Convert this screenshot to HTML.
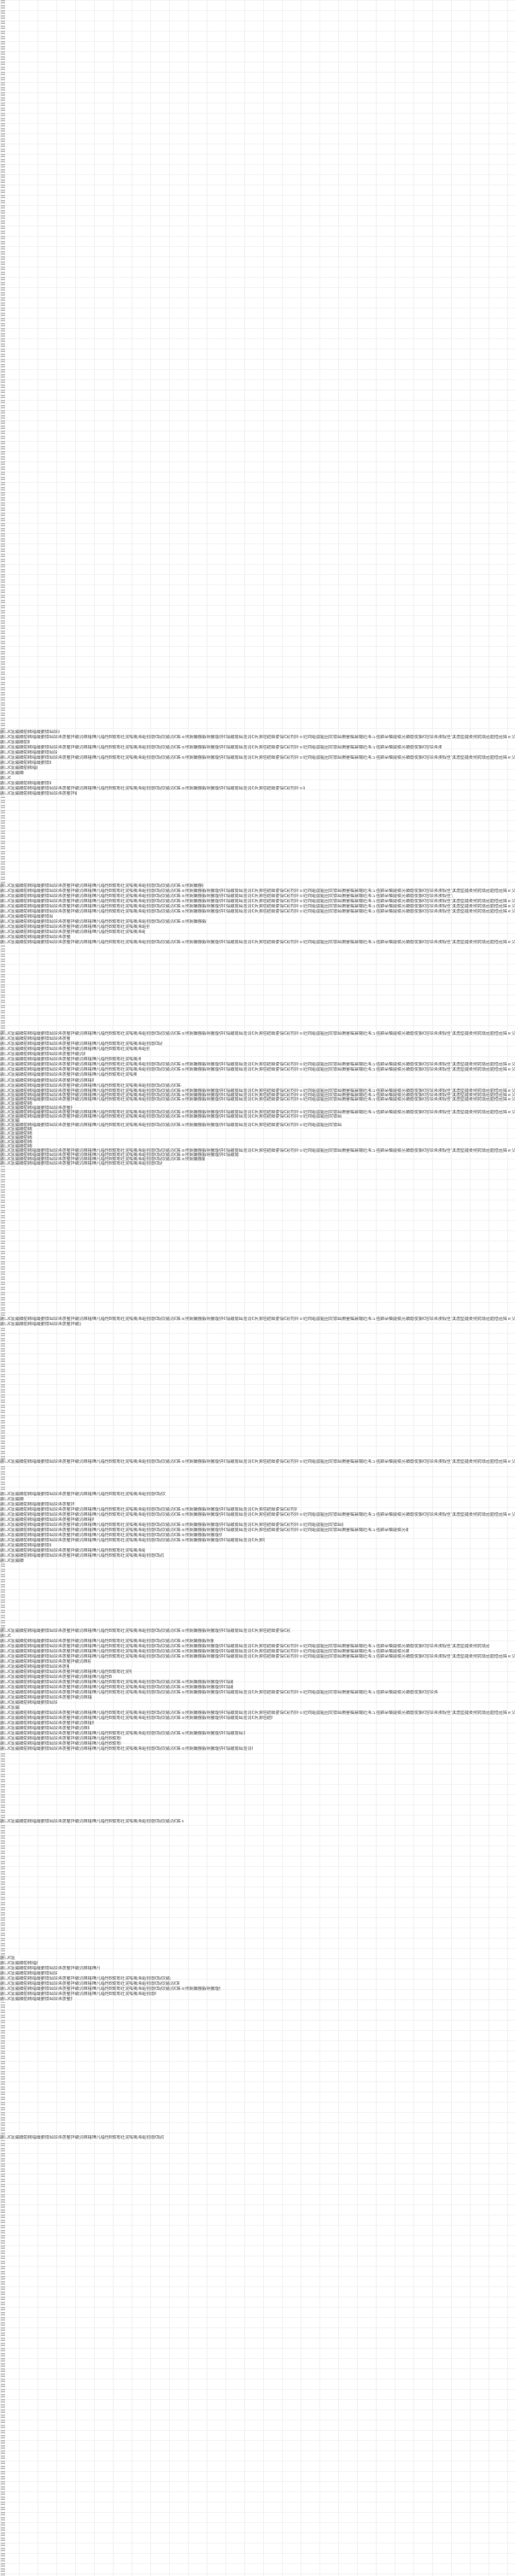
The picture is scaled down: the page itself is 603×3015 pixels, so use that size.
<!DOCTYPE html>
<html><head><meta charset="utf-8">
<style>
html,body{margin:0;padding:0;}
body{width:603px;height:3015px;position:relative;overflow:hidden;background:#fff;
background-image:linear-gradient(to right,#f2f2f2 1px,transparent 1px),linear-gradient(to bottom,#f4f4f4 1px,transparent 1px);
background-size:22px 100%,100% 12px;}
.ic{position:absolute;left:1px;top:0;width:5px;height:3015px;
background:repeating-linear-gradient(to bottom,#b8b8b8 0 1px,#e0e0e0 1px 3px,#b8b8b8 3px 4px,transparent 4px 6px);}
.l{position:absolute;left:0;height:6px;overflow:hidden;white-space:nowrap;background:#fff;
font-family:"Liberation Sans","Noto Sans CJK SC",sans-serif;font-size:5px;line-height:6px;color:#555;}
</style></head><body>
<div class="ic"></div>

<div class="l" style="top:854px;width:70px">鍦ㄩ€氳繃鐨勭郴缁熶腑锛屾垜浠彂鐜拌繖涓棶棰樺凡缁忚В鍐</div>
<div class="l" style="top:860px;width:603px">鍦ㄩ€氳繃鐨勭郴缁熶腑锛屾垜浠彂鐜拌繖涓棶棰樺凡缁忚В鍐筹紝浣嗘槸浠嶇劧闇€瑕佽繘涓€姝ョ殑娴嬭瘯鍜岄獙璇併€傝繖閲屾湁涓€浜涙暟鎹細鍙傝€冩枃妗ｏ紝閰嶇疆鏂囦欢锛屾棩蹇楄褰曪紝浠ュ強鍏朵粬鐩稿叧鐨勪俊鎭€傛垜浠渶瑕佺‘淇濇墍鏈夌殑鍔熻兘閮借兘姝ｅ父宸ヤ綔</div>
<div class="l" style="top:866px;width:35px">鍦ㄩ€氳繃鐨勭郴缁</div>
<div class="l" style="top:872px;width:517px">鍦ㄩ€氳繃鐨勭郴缁熶腑锛屾垜浠彂鐜拌繖涓棶棰樺凡缁忚В鍐筹紝浣嗘槸浠嶇劧闇€瑕佽繘涓€姝ョ殑娴嬭瘯鍜岄獙璇併€傝繖閲屾湁涓€浜涙暟鎹細鍙傝€冩枃妗ｏ紝閰嶇疆鏂囦欢锛屾棩蹇楄褰曪紝浠ュ強鍏朵粬鐩稿叧鐨勪俊鎭€傛垜浠渶瑕佺‘淇濇墍鏈夌殑鍔熻兘</div>
<div class="l" style="top:878px;width:67px">鍦ㄩ€氳繃鐨勭郴缁熶腑锛屾垜浠彂鐜</div>
<div class="l" style="top:884px;width:603px">鍦ㄩ€氳繃鐨勭郴缁熶腑锛屾垜浠彂鐜拌繖涓棶棰樺凡缁忚В鍐筹紝浣嗘槸浠嶇劧闇€瑕佽繘涓€姝ョ殑娴嬭瘯鍜岄獙璇併€傝繖閲屾湁涓€浜涙暟鎹細鍙傝€冩枃妗ｏ紝閰嶇疆鏂囦欢锛屾棩蹇楄褰曪紝浠ュ強鍏朵粬鐩稿叧鐨勪俊鎭€傛垜浠渶瑕佺‘淇濇墍鏈夌殑鍔熻兘閮借兘姝ｅ父宸ヤ綔</div>
<div class="l" style="top:890px;width:60px">鍦ㄩ€氳繃鐨勭郴缁熶腑锛屾垜浠</div>
<div class="l" style="top:896px;width:44px">鍦ㄩ€氳繃鐨勭郴缁熶腑</div>
<div class="l" style="top:902px;width:31px">鍦ㄩ€氳繃鐨</div>
<div class="l" style="top:908px;width:14px">鍦ㄩ€</div>
<div class="l" style="top:914px;width:60px">鍦ㄩ€氳繃鐨勭郴缁熶腑锛屾垜浠</div>
<div class="l" style="top:920px;width:357px">鍦ㄩ€氳繃鐨勭郴缁熶腑锛屾垜浠彂鐜拌繖涓棶棰樺凡缁忚В鍐筹紝浣嗘槸浠嶇劧闇€瑕佽繘涓€姝ョ殑娴嬭瘯鍜岄獙璇併€傝繖閲屾湁涓€浜涙暟鎹細鍙傝€冩枃妗ｏ紝閰嶇疆鏂囦欢</div>
<div class="l" style="top:926px;width:90px">鍦ㄩ€氳繃鐨勭郴缁熶腑锛屾垜浠彂鐜拌繖涓棶</div>

<div class="l" style="top:1034px;width:238px">鍦ㄩ€氳繃鐨勭郴缁熶腑锛屾垜浠彂鐜拌繖涓棶棰樺凡缁忚В鍐筹紝浣嗘槸浠嶇劧闇€瑕佽繘涓€姝ョ殑娴嬭瘯鍜岄獙璇併€傝繖閲屾湁涓€浜涙暟鎹</div>
<div class="l" style="top:1040px;width:603px">鍦ㄩ€氳繃鐨勭郴缁熶腑锛屾垜浠彂鐜拌繖涓棶棰樺凡缁忚В鍐筹紝浣嗘槸浠嶇劧闇€瑕佽繘涓€姝ョ殑娴嬭瘯鍜岄獙璇併€傝繖閲屾湁涓€浜涙暟鎹細鍙傝€冩枃妗ｏ紝閰嶇疆鏂囦欢锛屾棩蹇楄褰曪紝浠ュ強鍏朵粬鐩稿叧鐨勪俊鎭€傛垜浠渶瑕佺‘淇濇墍鏈夌殑鍔熻兘閮借兘姝ｅ父宸ヤ綔</div>
<div class="l" style="top:1046px;width:530px">鍦ㄩ€氳繃鐨勭郴缁熶腑锛屾垜浠彂鐜拌繖涓棶棰樺凡缁忚В鍐筹紝浣嗘槸浠嶇劧闇€瑕佽繘涓€姝ョ殑娴嬭瘯鍜岄獙璇併€傝繖閲屾湁涓€浜涙暟鎹細鍙傝€冩枃妗ｏ紝閰嶇疆鏂囦欢锛屾棩蹇楄褰曪紝浠ュ強鍏朵粬鐩稿叧鐨勪俊鎭€傛垜浠渶瑕佺‘淇濇墍鏈夌殑鍔熻兘閮</div>
<div class="l" style="top:1052px;width:603px">鍦ㄩ€氳繃鐨勭郴缁熶腑锛屾垜浠彂鐜拌繖涓棶棰樺凡缁忚В鍐筹紝浣嗘槸浠嶇劧闇€瑕佽繘涓€姝ョ殑娴嬭瘯鍜岄獙璇併€傝繖閲屾湁涓€浜涙暟鎹細鍙傝€冩枃妗ｏ紝閰嶇疆鏂囦欢锛屾棩蹇楄褰曪紝浠ュ強鍏朵粬鐩稿叧鐨勪俊鎭€傛垜浠渶瑕佺‘淇濇墍鏈夌殑鍔熻兘閮借兘姝ｅ父宸ヤ綔</div>
<div class="l" style="top:1058px;width:603px">鍦ㄩ€氳繃鐨勭郴缁熶腑锛屾垜浠彂鐜拌繖涓棶棰樺凡缁忚В鍐筹紝浣嗘槸浠嶇劧闇€瑕佽繘涓€姝ョ殑娴嬭瘯鍜岄獙璇併€傝繖閲屾湁涓€浜涙暟鎹細鍙傝€冩枃妗ｏ紝閰嶇疆鏂囦欢锛屾棩蹇楄褰曪紝浠ュ強鍏朵粬鐩稿叧鐨勪俊鎭€傛垜浠渶瑕佺‘淇濇墍鏈夌殑鍔熻兘閮借兘姝ｅ父宸ヤ綔</div>
<div class="l" style="top:1064px;width:603px">鍦ㄩ€氳繃鐨勭郴缁熶腑锛屾垜浠彂鐜拌繖涓棶棰樺凡缁忚В鍐筹紝浣嗘槸浠嶇劧闇€瑕佽繘涓€姝ョ殑娴嬭瘯鍜岄獙璇併€傝繖閲屾湁涓€浜涙暟鎹細鍙傝€冩枃妗ｏ紝閰嶇疆鏂囦欢锛屾棩蹇楄褰曪紝浠ュ強鍏朵粬鐩稿叧鐨勪俊鎭€傛垜浠渶瑕佺‘淇濇墍鏈夌殑鍔熻兘閮借兘姝ｅ父宸ヤ綔</div>
<div class="l" style="top:1070px;width:62px">鍦ㄩ€氳繃鐨勭郴缁熶腑锛屾垜浠</div>
<div class="l" style="top:1076px;width:242px">鍦ㄩ€氳繃鐨勭郴缁熶腑锛屾垜浠彂鐜拌繖涓棶棰樺凡缁忚В鍐筹紝浣嗘槸浠嶇劧闇€瑕佽繘涓€姝ョ殑娴嬭瘯鍜岄獙璇併€傝繖閲屾湁涓€浜涙暟鎹</div>
<div class="l" style="top:1082px;width:175px">鍦ㄩ€氳繃鐨勭郴缁熶腑锛屾垜浠彂鐜拌繖涓棶棰樺凡缁忚В鍐筹紝浣嗘槸浠嶇劧闇€瑕佽繘涓€</div>
<div class="l" style="top:1088px;width:170px">鍦ㄩ€氳繃鐨勭郴缁熶腑锛屾垜浠彂鐜拌繖涓棶棰樺凡缁忚В鍐筹紝浣嗘槸浠嶇劧闇€瑕佽繘</div>
<div class="l" style="top:1094px;width:83px">鍦ㄩ€氳繃鐨勭郴缁熶腑锛屾垜浠彂鐜拌繖涓</div>
<div class="l" style="top:1100px;width:603px">鍦ㄩ€氳繃鐨勭郴缁熶腑锛屾垜浠彂鐜拌繖涓棶棰樺凡缁忚В鍐筹紝浣嗘槸浠嶇劧闇€瑕佽繘涓€姝ョ殑娴嬭瘯鍜岄獙璇併€傝繖閲屾湁涓€浜涙暟鎹細鍙傝€冩枃妗ｏ紝閰嶇疆鏂囦欢锛屾棩蹇楄褰曪紝浠ュ強鍏朵粬鐩稿叧鐨勪俊鎭€傛垜浠渶瑕佺‘淇濇墍鏈夌殑鍔熻兘閮借兘姝ｅ父宸ヤ綔</div>

<div class="l" style="top:1207px;width:603px">鍦ㄩ€氳繃鐨勭郴缁熶腑锛屾垜浠彂鐜拌繖涓棶棰樺凡缁忚В鍐筹紝浣嗘槸浠嶇劧闇€瑕佽繘涓€姝ョ殑娴嬭瘯鍜岄獙璇併€傝繖閲屾湁涓€浜涙暟鎹細鍙傝€冩枃妗ｏ紝閰嶇疆鏂囦欢锛屾棩蹇楄褰曪紝浠ュ強鍏朵粬鐩稿叧鐨勪俊鎭€傛垜浠渶瑕佺‘淇濇墍鏈夌殑鍔熻兘閮借兘姝ｅ父宸ヤ綔</div>
<div class="l" style="top:1213px;width:82px">鍦ㄩ€氳繃鐨勭郴缁熶腑锛屾垜浠彂鐜拌繖涓</div>
<div class="l" style="top:1219px;width:190px">鍦ㄩ€氳繃鐨勭郴缁熶腑锛屾垜浠彂鐜拌繖涓棶棰樺凡缁忚В鍐筹紝浣嗘槸浠嶇劧闇€瑕佽繘涓€姝ョ</div>
<div class="l" style="top:1225px;width:175px">鍦ㄩ€氳繃鐨勭郴缁熶腑锛屾垜浠彂鐜拌繖涓棶棰樺凡缁忚В鍐筹紝浣嗘槸浠嶇劧闇€瑕佽繘涓€</div>
<div class="l" style="top:1231px;width:100px">鍦ㄩ€氳繃鐨勭郴缁熶腑锛屾垜浠彂鐜拌繖涓棶棰樺</div>
<div class="l" style="top:1237px;width:165px">鍦ㄩ€氳繃鐨勭郴缁熶腑锛屾垜浠彂鐜拌繖涓棶棰樺凡缁忚В鍐筹紝浣嗘槸浠嶇劧闇€瑕</div>
<div class="l" style="top:1243px;width:603px">鍦ㄩ€氳繃鐨勭郴缁熶腑锛屾垜浠彂鐜拌繖涓棶棰樺凡缁忚В鍐筹紝浣嗘槸浠嶇劧闇€瑕佽繘涓€姝ョ殑娴嬭瘯鍜岄獙璇併€傝繖閲屾湁涓€浜涙暟鎹細鍙傝€冩枃妗ｏ紝閰嶇疆鏂囦欢锛屾棩蹇楄褰曪紝浠ュ強鍏朵粬鐩稿叧鐨勪俊鎭€傛垜浠渶瑕佺‘淇濇墍鏈夌殑鍔熻兘閮借兘姝ｅ父宸ヤ綔</div>
<div class="l" style="top:1249px;width:603px">鍦ㄩ€氳繃鐨勭郴缁熶腑锛屾垜浠彂鐜拌繖涓棶棰樺凡缁忚В鍐筹紝浣嗘槸浠嶇劧闇€瑕佽繘涓€姝ョ殑娴嬭瘯鍜岄獙璇併€傝繖閲屾湁涓€浜涙暟鎹細鍙傝€冩枃妗ｏ紝閰嶇疆鏂囦欢锛屾棩蹇楄褰曪紝浠ュ強鍏朵粬鐩稿叧鐨勪俊鎭€傛垜浠渶瑕佺‘淇濇墍鏈夌殑鍔熻兘閮借兘姝ｅ父宸ヤ綔</div>
<div class="l" style="top:1255px;width:160px">鍦ㄩ€氳繃鐨勭郴缁熶腑锛屾垜浠彂鐜拌繖涓棶棰樺凡缁忚В鍐筹紝浣嗘槸浠嶇劧闇€</div>
<div class="l" style="top:1262px;width:110px">鍦ㄩ€氳繃鐨勭郴缁熶腑锛屾垜浠彂鐜拌繖涓棶棰樺凡缁</div>
<div class="l" style="top:1268px;width:213px">鍦ㄩ€氳繃鐨勭郴缁熶腑锛屾垜浠彂鐜拌繖涓棶棰樺凡缁忚В鍐筹紝浣嗘槸浠嶇劧闇€瑕佽繘涓€姝ョ殑娴嬭瘯鍜</div>
<div class="l" style="top:1274px;width:603px">鍦ㄩ€氳繃鐨勭郴缁熶腑锛屾垜浠彂鐜拌繖涓棶棰樺凡缁忚В鍐筹紝浣嗘槸浠嶇劧闇€瑕佽繘涓€姝ョ殑娴嬭瘯鍜岄獙璇併€傝繖閲屾湁涓€浜涙暟鎹細鍙傝€冩枃妗ｏ紝閰嶇疆鏂囦欢锛屾棩蹇楄褰曪紝浠ュ強鍏朵粬鐩稿叧鐨勪俊鎭€傛垜浠渶瑕佺‘淇濇墍鏈夌殑鍔熻兘閮借兘姝ｅ父宸ヤ綔</div>
<div class="l" style="top:1279px;width:603px">鍦ㄩ€氳繃鐨勭郴缁熶腑锛屾垜浠彂鐜拌繖涓棶棰樺凡缁忚В鍐筹紝浣嗘槸浠嶇劧闇€瑕佽繘涓€姝ョ殑娴嬭瘯鍜岄獙璇併€傝繖閲屾湁涓€浜涙暟鎹細鍙傝€冩枃妗ｏ紝閰嶇疆鏂囦欢锛屾棩蹇楄褰曪紝浠ュ強鍏朵粬鐩稿叧鐨勪俊鎭€傛垜浠渶瑕佺‘淇濇墍鏈夌殑鍔熻兘閮借兘姝ｅ父宸ヤ綔</div>
<div class="l" style="top:1284px;width:603px">鍦ㄩ€氳繃鐨勭郴缁熶腑锛屾垜浠彂鐜拌繖涓棶棰樺凡缁忚В鍐筹紝浣嗘槸浠嶇劧闇€瑕佽繘涓€姝ョ殑娴嬭瘯鍜岄獙璇併€傝繖閲屾湁涓€浜涙暟鎹細鍙傝€冩枃妗ｏ紝閰嶇疆鏂囦欢锛屾棩蹇楄褰曪紝浠ュ強鍏朵粬鐩稿叧鐨勪俊鎭€傛垜浠渶瑕佺‘淇濇墍鏈夌殑鍔熻兘閮借兘姝ｅ父宸ヤ綔</div>
<div class="l" style="top:1289px;width:38px">鍦ㄩ€氳繃鐨勭郴</div>
<div class="l" style="top:1294px;width:85px">鍦ㄩ€氳繃鐨勭郴缁熶腑锛屾垜浠彂鐜拌繖涓</div>
<div class="l" style="top:1299px;width:603px">鍦ㄩ€氳繃鐨勭郴缁熶腑锛屾垜浠彂鐜拌繖涓棶棰樺凡缁忚В鍐筹紝浣嗘槸浠嶇劧闇€瑕佽繘涓€姝ョ殑娴嬭瘯鍜岄獙璇併€傝繖閲屾湁涓€浜涙暟鎹細鍙傝€冩枃妗ｏ紝閰嶇疆鏂囦欢锛屾棩蹇楄褰曪紝浠ュ強鍏朵粬鐩稿叧鐨勪俊鎭€傛垜浠渶瑕佺‘淇濇墍鏈夌殑鍔熻兘閮借兘姝ｅ父宸ヤ綔</div>
<div class="l" style="top:1304px;width:400px">鍦ㄩ€氳繃鐨勭郴缁熶腑锛屾垜浠彂鐜拌繖涓棶棰樺凡缁忚В鍐筹紝浣嗘槸浠嶇劧闇€瑕佽繘涓€姝ョ殑娴嬭瘯鍜岄獙璇併€傝繖閲屾湁涓€浜涙暟鎹細鍙傝€冩枃妗ｏ紝閰嶇疆鏂囦欢锛屾棩蹇楄褰</div>
<div class="l" style="top:1309px;width:25px">鍦ㄩ€氳繃</div>
<div class="l" style="top:1314px;width:400px">鍦ㄩ€氳繃鐨勭郴缁熶腑锛屾垜浠彂鐜拌繖涓棶棰樺凡缁忚В鍐筹紝浣嗘槸浠嶇劧闇€瑕佽繘涓€姝ョ殑娴嬭瘯鍜岄獙璇併€傝繖閲屾湁涓€浜涙暟鎹細鍙傝€冩枃妗ｏ紝閰嶇疆鏂囦欢锛屾棩蹇楄褰</div>
<div class="l" style="top:1319px;width:40px">鍦ㄩ€氳繃鐨勭郴</div>
<div class="l" style="top:1324px;width:40px">鍦ㄩ€氳繃鐨勭郴</div>
<div class="l" style="top:1329px;width:40px">鍦ㄩ€氳繃鐨勭郴</div>
<div class="l" style="top:1334px;width:40px">鍦ㄩ€氳繃鐨勭郴</div>
<div class="l" style="top:1339px;width:40px">鍦ㄩ€氳繃鐨勭郴</div>
<div class="l" style="top:1344px;width:603px">鍦ㄩ€氳繃鐨勭郴缁熶腑锛屾垜浠彂鐜拌繖涓棶棰樺凡缁忚В鍐筹紝浣嗘槸浠嶇劧闇€瑕佽繘涓€姝ョ殑娴嬭瘯鍜岄獙璇併€傝繖閲屾湁涓€浜涙暟鎹細鍙傝€冩枃妗ｏ紝閰嶇疆鏂囦欢锛屾棩蹇楄褰曪紝浠ュ強鍏朵粬鐩稿叧鐨勪俊鎭€傛垜浠渶瑕佺‘淇濇墍鏈夌殑鍔熻兘閮借兘姝ｅ父宸ヤ綔</div>
<div class="l" style="top:1349px;width:280px">鍦ㄩ€氳繃鐨勭郴缁熶腑锛屾垜浠彂鐜拌繖涓棶棰樺凡缁忚В鍐筹紝浣嗘槸浠嶇劧闇€瑕佽繘涓€姝ョ殑娴嬭瘯鍜岄獙璇併€傝繖閲屾湁涓€浜涙暟鎹細鍙</div>
<div class="l" style="top:1354px;width:240px">鍦ㄩ€氳繃鐨勭郴缁熶腑锛屾垜浠彂鐜拌繖涓棶棰樺凡缁忚В鍐筹紝浣嗘槸浠嶇劧闇€瑕佽繘涓€姝ョ殑娴嬭瘯鍜岄獙璇併€傝</div>
<div class="l" style="top:1359px;width:190px">鍦ㄩ€氳繃鐨勭郴缁熶腑锛屾垜浠彂鐜拌繖涓棶棰樺凡缁忚В鍐筹紝浣嗘槸浠嶇劧闇€瑕佽繘涓€姝ョ</div>

<div class="l" style="top:1541px;width:603px">鍦ㄩ€氳繃鐨勭郴缁熶腑锛屾垜浠彂鐜拌繖涓棶棰樺凡缁忚В鍐筹紝浣嗘槸浠嶇劧闇€瑕佽繘涓€姝ョ殑娴嬭瘯鍜岄獙璇併€傝繖閲屾湁涓€浜涙暟鎹細鍙傝€冩枃妗ｏ紝閰嶇疆鏂囦欢锛屾棩蹇楄褰曪紝浠ュ強鍏朵粬鐩稿叧鐨勪俊鎭€傛垜浠渶瑕佺‘淇濇墍鏈夌殑鍔熻兘閮借兘姝ｅ父宸ヤ綔</div>
<div class="l" style="top:1547px;width:95px">鍦ㄩ€氳繃鐨勭郴缁熶腑锛屾垜浠彂鐜拌繖涓棶棰</div>
<div class="l" style="top:1708px;width:603px">鍦ㄩ€氳繃鐨勭郴缁熶腑锛屾垜浠彂鐜拌繖涓棶棰樺凡缁忚В鍐筹紝浣嗘槸浠嶇劧闇€瑕佽繘涓€姝ョ殑娴嬭瘯鍜岄獙璇併€傝繖閲屾湁涓€浜涙暟鎹細鍙傝€冩枃妗ｏ紝閰嶇疆鏂囦欢锛屾棩蹇楄褰曪紝浠ュ強鍏朵粬鐩稿叧鐨勪俊鎭€傛垜浠渶瑕佺‘淇濇墍鏈夌殑鍔熻兘閮借兘姝ｅ父宸ヤ綔</div>

<div class="l" style="top:1746px;width:194px">鍦ㄩ€氳繃鐨勭郴缁熶腑锛屾垜浠彂鐜拌繖涓棶棰樺凡缁忚В鍐筹紝浣嗘槸浠嶇劧闇€瑕佽繘涓€姝ョ</div>
<div class="l" style="top:1752px;width:31px">鍦ㄩ€氳繃鐨</div>
<div class="l" style="top:1758px;width:87px">鍦ㄩ€氳繃鐨勭郴缁熶腑锛屾垜浠彂鐜拌繖涓</div>
<div class="l" style="top:1764px;width:348px">鍦ㄩ€氳繃鐨勭郴缁熶腑锛屾垜浠彂鐜拌繖涓棶棰樺凡缁忚В鍐筹紝浣嗘槸浠嶇劧闇€瑕佽繘涓€姝ョ殑娴嬭瘯鍜岄獙璇併€傝繖閲屾湁涓€浜涙暟鎹細鍙傝€冩枃妗ｏ紝閰嶇疆</div>
<div class="l" style="top:1770px;width:603px">鍦ㄩ€氳繃鐨勭郴缁熶腑锛屾垜浠彂鐜拌繖涓棶棰樺凡缁忚В鍐筹紝浣嗘槸浠嶇劧闇€瑕佽繘涓€姝ョ殑娴嬭瘯鍜岄獙璇併€傝繖閲屾湁涓€浜涙暟鎹細鍙傝€冩枃妗ｏ紝閰嶇疆鏂囦欢锛屾棩蹇楄褰曪紝浠ュ強鍏朵粬鐩稿叧鐨勪俊鎭€傛垜浠渶瑕佺‘淇濇墍鏈夌殑鍔熻兘閮借兘姝ｅ父宸ヤ綔</div>
<div class="l" style="top:1776px;width:110px">鍦ㄩ€氳繃鐨勭郴缁熶腑锛屾垜浠彂鐜拌繖涓棶棰樺凡缁</div>
<div class="l" style="top:1782px;width:402px">鍦ㄩ€氳繃鐨勭郴缁熶腑锛屾垜浠彂鐜拌繖涓棶棰樺凡缁忚В鍐筹紝浣嗘槸浠嶇劧闇€瑕佽繘涓€姝ョ殑娴嬭瘯鍜岄獙璇併€傝繖閲屾湁涓€浜涙暟鎹細鍙傝€冩枃妗ｏ紝閰嶇疆鏂囦欢锛屾棩蹇楄褰</div>
<div class="l" style="top:1788px;width:478px">鍦ㄩ€氳繃鐨勭郴缁熶腑锛屾垜浠彂鐜拌繖涓棶棰樺凡缁忚В鍐筹紝浣嗘槸浠嶇劧闇€瑕佽繘涓€姝ョ殑娴嬭瘯鍜岄獙璇併€傝繖閲屾湁涓€浜涙暟鎹細鍙傝€冩枃妗ｏ紝閰嶇疆鏂囦欢锛屾棩蹇楄褰曪紝浠ュ強鍏朵粬鐩稿叧鐨勪俊鎭€傛垜浠</div>
<div class="l" style="top:1794px;width:260px">鍦ㄩ€氳繃鐨勭郴缁熶腑锛屾垜浠彂鐜拌繖涓棶棰樺凡缁忚В鍐筹紝浣嗘槸浠嶇劧闇€瑕佽繘涓€姝ョ殑娴嬭瘯鍜岄獙璇併€傝繖閲屾湁涓€浜</div>
<div class="l" style="top:1800px;width:310px">鍦ㄩ€氳繃鐨勭郴缁熶腑锛屾垜浠彂鐜拌繖涓棶棰樺凡缁忚В鍐筹紝浣嗘槸浠嶇劧闇€瑕佽繘涓€姝ョ殑娴嬭瘯鍜岄獙璇併€傝繖閲屾湁涓€浜涙暟鎹細鍙傝€冩</div>
<div class="l" style="top:1806px;width:60px">鍦ㄩ€氳繃鐨勭郴缁熶腑锛屾垜浠</div>
<div class="l" style="top:1812px;width:170px">鍦ㄩ€氳繃鐨勭郴缁熶腑锛屾垜浠彂鐜拌繖涓棶棰樺凡缁忚В鍐筹紝浣嗘槸浠嶇劧闇€瑕佽繘</div>
<div class="l" style="top:1818px;width:192px">鍦ㄩ€氳繃鐨勭郴缁熶腑锛屾垜浠彂鐜拌繖涓棶棰樺凡缁忚В鍐筹紝浣嗘槸浠嶇劧闇€瑕佽繘涓€姝ョ</div>
<div class="l" style="top:1824px;width:30px">鍦ㄩ€氳繃鐨</div>

<div class="l" style="top:1906px;width:340px">鍦ㄩ€氳繃鐨勭郴缁熶腑锛屾垜浠彂鐜拌繖涓棶棰樺凡缁忚В鍐筹紝浣嗘槸浠嶇劧闇€瑕佽繘涓€姝ョ殑娴嬭瘯鍜岄獙璇併€傝繖閲屾湁涓€浜涙暟鎹細鍙傝€冩枃妗ｏ紝</div>
<div class="l" style="top:1912px;width:15px">鍦ㄩ€</div>
<div class="l" style="top:1918px;width:250px">鍦ㄩ€氳繃鐨勭郴缁熶腑锛屾垜浠彂鐜拌繖涓棶棰樺凡缁忚В鍐筹紝浣嗘槸浠嶇劧闇€瑕佽繘涓€姝ョ殑娴嬭瘯鍜岄獙璇併€傝繖閲</div>
<div class="l" style="top:1924px;width:573px">鍦ㄩ€氳繃鐨勭郴缁熶腑锛屾垜浠彂鐜拌繖涓棶棰樺凡缁忚В鍐筹紝浣嗘槸浠嶇劧闇€瑕佽繘涓€姝ョ殑娴嬭瘯鍜岄獙璇併€傝繖閲屾湁涓€浜涙暟鎹細鍙傝€冩枃妗ｏ紝閰嶇疆鏂囦欢锛屾棩蹇楄褰曪紝浠ュ強鍏朵粬鐩稿叧鐨勪俊鎭€傛垜浠渶瑕佺‘淇濇墍鏈夌殑鍔熻兘閮借兘</div>
<div class="l" style="top:1930px;width:479px">鍦ㄩ€氳繃鐨勭郴缁熶腑锛屾垜浠彂鐜拌繖涓棶棰樺凡缁忚В鍐筹紝浣嗘槸浠嶇劧闇€瑕佽繘涓€姝ョ殑娴嬭瘯鍜岄獙璇併€傝繖閲屾湁涓€浜涙暟鎹細鍙傝€冩枃妗ｏ紝閰嶇疆鏂囦欢锛屾棩蹇楄褰曪紝浠ュ強鍏朵粬鐩稿叧鐨勪俊鎭€傛垜浠</div>
<div class="l" style="top:1936px;width:603px">鍦ㄩ€氳繃鐨勭郴缁熶腑锛屾垜浠彂鐜拌繖涓棶棰樺凡缁忚В鍐筹紝浣嗘槸浠嶇劧闇€瑕佽繘涓€姝ョ殑娴嬭瘯鍜岄獙璇併€傝繖閲屾湁涓€浜涙暟鎹細鍙傝€冩枃妗ｏ紝閰嶇疆鏂囦欢锛屾棩蹇楄褰曪紝浠ュ強鍏朵粬鐩稿叧鐨勪俊鎭€傛垜浠渶瑕佺‘淇濇墍鏈夌殑鍔熻兘閮借兘姝ｅ父宸ヤ綔</div>
<div class="l" style="top:1942px;width:106px">鍦ㄩ€氳繃鐨勭郴缁熶腑锛屾垜浠彂鐜拌繖涓棶棰樺凡</div>
<div class="l" style="top:1948px;width:81px">鍦ㄩ€氳繃鐨勭郴缁熶腑锛屾垜浠彂鐜拌繖</div>
<div class="l" style="top:1954px;width:154px">鍦ㄩ€氳繃鐨勭郴缁熶腑锛屾垜浠彂鐜拌繖涓棶棰樺凡缁忚В鍐筹紝浣嗘槸浠</div>
<div class="l" style="top:1960px;width:131px">鍦ㄩ€氳繃鐨勭郴缁熶腑锛屾垜浠彂鐜拌繖涓棶棰樺凡缁忚В鍐</div>
<div class="l" style="top:1966px;width:273px">鍦ㄩ€氳繃鐨勭郴缁熶腑锛屾垜浠彂鐜拌繖涓棶棰樺凡缁忚В鍐筹紝浣嗘槸浠嶇劧闇€瑕佽繘涓€姝ョ殑娴嬭瘯鍜岄獙璇併€傝繖閲屾湁涓€浜涙暟</div>
<div class="l" style="top:1972px;width:273px">鍦ㄩ€氳繃鐨勭郴缁熶腑锛屾垜浠彂鐜拌繖涓棶棰樺凡缁忚В鍐筹紝浣嗘槸浠嶇劧闇€瑕佽繘涓€姝ョ殑娴嬭瘯鍜岄獙璇併€傝繖閲屾湁涓€浜涙暟</div>
<div class="l" style="top:1978px;width:513px">鍦ㄩ€氳繃鐨勭郴缁熶腑锛屾垜浠彂鐜拌繖涓棶棰樺凡缁忚В鍐筹紝浣嗘槸浠嶇劧闇€瑕佽繘涓€姝ョ殑娴嬭瘯鍜岄獙璇併€傝繖閲屾湁涓€浜涙暟鎹細鍙傝€冩枃妗ｏ紝閰嶇疆鏂囦欢锛屾棩蹇楄褰曪紝浠ュ強鍏朵粬鐩稿叧鐨勪俊鎭€傛垜浠渶瑕佺‘淇濇墍</div>
<div class="l" style="top:1984px;width:108px">鍦ㄩ€氳繃鐨勭郴缁熶腑锛屾垜浠彂鐜拌繖涓棶棰樺凡</div>
<div class="l" style="top:1990px;width:67px">鍦ㄩ€氳繃鐨勭郴缁熶腑锛屾垜浠彂鐜</div>
<div class="l" style="top:1996px;width:25px">鍦ㄩ€氳繃</div>
<div class="l" style="top:2002px;width:603px">鍦ㄩ€氳繃鐨勭郴缁熶腑锛屾垜浠彂鐜拌繖涓棶棰樺凡缁忚В鍐筹紝浣嗘槸浠嶇劧闇€瑕佽繘涓€姝ョ殑娴嬭瘯鍜岄獙璇併€傝繖閲屾湁涓€浜涙暟鎹細鍙傝€冩枃妗ｏ紝閰嶇疆鏂囦欢锛屾棩蹇楄褰曪紝浠ュ強鍏朵粬鐩稿叧鐨勪俊鎭€傛垜浠渶瑕佺‘淇濇墍鏈夌殑鍔熻兘閮借兘姝ｅ父宸ヤ綔</div>
<div class="l" style="top:2008px;width:319px">鍦ㄩ€氳繃鐨勭郴缁熶腑锛屾垜浠彂鐜拌繖涓棶棰樺凡缁忚В鍐筹紝浣嗘槸浠嶇劧闇€瑕佽繘涓€姝ョ殑娴嬭瘯鍜岄獙璇併€傝繖閲屾湁涓€浜涙暟鎹細鍙傝€冩枃</div>
<div class="l" style="top:2014px;width:110px">鍦ㄩ€氳繃鐨勭郴缁熶腑锛屾垜浠彂鐜拌繖涓棶棰樺凡缁</div>
<div class="l" style="top:2020px;width:105px">鍦ㄩ€氳繃鐨勭郴缁熶腑锛屾垜浠彂鐜拌繖涓棶棰樺</div>
<div class="l" style="top:2026px;width:287px">鍦ㄩ€氳繃鐨勭郴缁熶腑锛屾垜浠彂鐜拌繖涓棶棰樺凡缁忚В鍐筹紝浣嗘槸浠嶇劧闇€瑕佽繘涓€姝ョ殑娴嬭瘯鍜岄獙璇併€傝繖閲屾湁涓€浜涙暟鎹細</div>
<div class="l" style="top:2032px;width:142px">鍦ㄩ€氳繃鐨勭郴缁熶腑锛屾垜浠彂鐜拌繖涓棶棰樺凡缁忚В鍐筹紝浣</div>
<div class="l" style="top:2038px;width:142px">鍦ㄩ€氳繃鐨勭郴缁熶腑锛屾垜浠彂鐜拌繖涓棶棰樺凡缁忚В鍐筹紝浣</div>
<div class="l" style="top:2044px;width:296px">鍦ㄩ€氳繃鐨勭郴缁熶腑锛屾垜浠彂鐜拌繖涓棶棰樺凡缁忚В鍐筹紝浣嗘槸浠嶇劧闇€瑕佽繘涓€姝ョ殑娴嬭瘯鍜岄獙璇併€傝繖閲屾湁涓€浜涙暟鎹細鍙</div>

<div class="l" style="top:2129px;width:215px">鍦ㄩ€氳繃鐨勭郴缁熶腑锛屾垜浠彂鐜拌繖涓棶棰樺凡缁忚В鍐筹紝浣嗘槸浠嶇劧闇€瑕佽繘涓€姝ョ殑娴嬭瘯</div>

<div class="l" style="top:2289px;width:23px">鍦ㄩ€氳</div>
<div class="l" style="top:2295px;width:44px">鍦ㄩ€氳繃鐨勭郴缁熶腑</div>
<div class="l" style="top:2301px;width:117px">鍦ㄩ€氳繃鐨勭郴缁熶腑锛屾垜浠彂鐜拌繖涓棶棰樺凡缁忚</div>
<div class="l" style="top:2307px;width:67px">鍦ㄩ€氳繃鐨勭郴缁熶腑锛屾垜浠彂鐜</div>
<div class="l" style="top:2313px;width:200px">鍦ㄩ€氳繃鐨勭郴缁熶腑锛屾垜浠彂鐜拌繖涓棶棰樺凡缁忚В鍐筹紝浣嗘槸浠嶇劧闇€瑕佽繘涓€姝ョ殑</div>
<div class="l" style="top:2319px;width:210px">鍦ㄩ€氳繃鐨勭郴缁熶腑锛屾垜浠彂鐜拌繖涓棶棰樺凡缁忚В鍐筹紝浣嗘槸浠嶇劧闇€瑕佽繘涓€姝ョ殑娴嬭瘯</div>
<div class="l" style="top:2325px;width:258px">鍦ㄩ€氳繃鐨勭郴缁熶腑锛屾垜浠彂鐜拌繖涓棶棰樺凡缁忚В鍐筹紝浣嗘槸浠嶇劧闇€瑕佽繘涓€姝ョ殑娴嬭瘯鍜岄獙璇併€傝繖閲屾湁</div>
<div class="l" style="top:2331px;width:183px">鍦ㄩ€氳繃鐨勭郴缁熶腑锛屾垜浠彂鐜拌繖涓棶棰樺凡缁忚В鍐筹紝浣嗘槸浠嶇劧闇€瑕佽繘涓€</div>
<div class="l" style="top:2337px;width:85px">鍦ㄩ€氳繃鐨勭郴缁熶腑锛屾垜浠彂鐜拌繖涓</div>

<div class="l" style="top:2499px;width:192px">鍦ㄩ€氳繃鐨勭郴缁熶腑锛屾垜浠彂鐜拌繖涓棶棰樺凡缁忚В鍐筹紝浣嗘槸浠嶇劧闇€瑕佽繘涓€姝ョ</div>
</body></html>
